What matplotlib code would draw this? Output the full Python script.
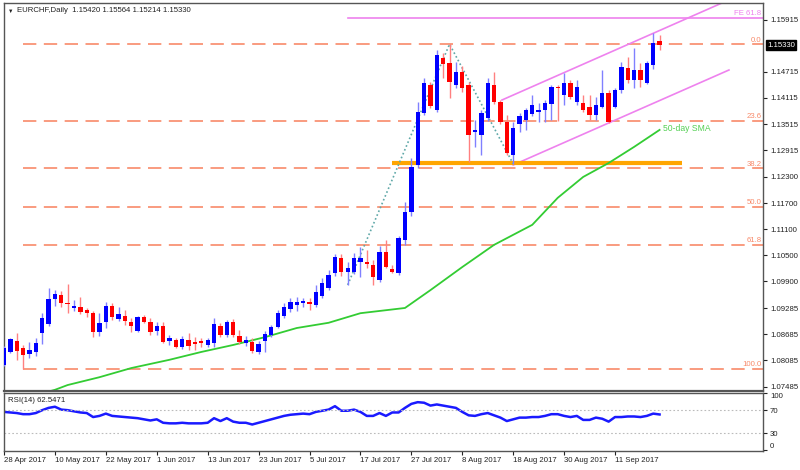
import matplotlib
matplotlib.use("Agg")
import matplotlib.pyplot as plt
import numpy as np

plt.rcParams['font.family'] = ['Liberation Sans', 'DejaVu Sans']

# Tagesdaten EURCHF, 28 Apr 2017 .. 20 Sep 2017 (Index = Bar-Nummer)
opens = [1.0798, 1.0828, 1.0853, 1.0837, 1.0823, 1.0828, 1.0872, 1.0892, 1.0950, 1.0959,
         1.0940, 1.0929, 1.0931, 1.0924, 1.0917, 1.0874, 1.0897, 1.0934, 1.0904, 1.0911,
         1.0897, 1.0876, 1.0908, 1.0897, 1.0876, 1.0888, 1.0853, 1.0855, 1.0839, 1.0855,
         1.0851, 1.0853, 1.0844, 1.0849, 1.0888, 1.0867, 1.0897, 1.0865, 1.0849, 1.0851,
         1.0828, 1.0853, 1.0867, 1.0885, 1.0911, 1.0927, 1.0936, 1.0940, 1.0943, 1.0936,
         1.0957, 1.0975, 1.1009, 1.1044, 1.1012, 1.1012, 1.1035, 1.1035, 1.1028, 1.0993,
         1.1058, 1.1019, 1.1009, 1.1085, 1.1149, 1.1257, 1.1377, 1.1441, 1.1384, 1.1503,
         1.1492, 1.1441, 1.1471, 1.1441, 1.1333, 1.1326, 1.1365, 1.1441, 1.1402, 1.1356,
         1.1280, 1.1352, 1.1361, 1.1375, 1.1379, 1.1384, 1.1398, 1.1437, 1.1418, 1.1446,
         1.1402, 1.1400, 1.1391, 1.1372, 1.1391, 1.1423, 1.1391, 1.1430, 1.1480, 1.1453,
         1.1476, 1.1446, 1.1487, 1.15420]
highs = [1.0842, 1.0860, 1.0872, 1.0844, 1.0851, 1.0860, 1.0917, 1.0975, 1.0970, 1.0968,
         1.0984, 1.0947, 1.0954, 1.0929, 1.0922, 1.0917, 1.0943, 1.0940, 1.0931, 1.0924,
         1.0906, 1.0911, 1.0913, 1.0906, 1.0897, 1.0897, 1.0867, 1.0860, 1.0865, 1.0872,
         1.0862, 1.0860, 1.0860, 1.0906, 1.0895, 1.0901, 1.0904, 1.0878, 1.0865, 1.0860,
         1.0853, 1.0876, 1.0890, 1.0924, 1.0940, 1.0952, 1.0954, 1.0952, 1.0952, 1.0982,
         1.0998, 1.1016, 1.1053, 1.1053, 1.1035, 1.1055, 1.1069, 1.1062, 1.1039, 1.1071,
         1.1085, 1.1028, 1.1094, 1.1172, 1.1274, 1.1402, 1.1457, 1.1448, 1.1522, 1.1515,
         1.1535, 1.1494, 1.1485, 1.1448, 1.1361, 1.1384, 1.1457, 1.1471, 1.1407, 1.1372,
         1.1356, 1.1377, 1.1388, 1.1418, 1.1400, 1.1407, 1.1441, 1.1441, 1.1469, 1.1453,
         1.1453, 1.1418, 1.1418, 1.1414, 1.1476, 1.1430, 1.1434, 1.1494, 1.1505, 1.1526,
         1.1492, 1.1496, 1.1561, 1.15564]
lows = [1.0796, 1.0826, 1.0810, 1.0789, 1.0814, 1.0819, 1.0846, 1.0888, 1.0934, 1.0931,
        1.0917, 1.0922, 1.0915, 1.0908, 1.0862, 1.0865, 1.0883, 1.0901, 1.0899, 1.0890,
        1.0874, 1.0874, 1.0895, 1.0867, 1.0867, 1.0849, 1.0844, 1.0837, 1.0835, 1.0832,
        1.0832, 1.0839, 1.0839, 1.0839, 1.0862, 1.0862, 1.0862, 1.0846, 1.0842, 1.0826,
        1.0823, 1.0828, 1.0862, 1.0883, 1.0906, 1.0920, 1.0922, 1.0931, 1.0924, 1.0931,
        1.0952, 1.0970, 1.1002, 1.1002, 1.0982, 1.1007, 1.1000, 1.1021, 1.0982, 1.0989,
        1.1021, 1.1009, 1.1005, 1.1074, 1.1140, 1.1250, 1.1372, 1.1388, 1.1379, 1.1457,
        1.1411, 1.1434, 1.1425, 1.1264, 1.1299, 1.1280, 1.1359, 1.1398, 1.1352, 1.1280,
        1.1260, 1.1333, 1.1338, 1.1370, 1.1356, 1.1356, 1.1361, 1.1359, 1.1395, 1.1409,
        1.1395, 1.1379, 1.1361, 1.1361, 1.1388, 1.1354, 1.1388, 1.1423, 1.1446, 1.1434,
        1.1437, 1.1444, 1.1478, 1.15214]
closes = [1.0837, 1.0858, 1.0830, 1.0821, 1.0832, 1.0849, 1.0906, 1.0950, 1.0961, 1.0940,
          1.0938, 1.0934, 1.0920, 1.0917, 1.0874, 1.0895, 1.0934, 1.0908, 1.0915, 1.0899,
          1.0888, 1.0908, 1.0897, 1.0874, 1.0888, 1.0851, 1.0860, 1.0839, 1.0858, 1.0842,
          1.0846, 1.0849, 1.0855, 1.0892, 1.0867, 1.0897, 1.0867, 1.0851, 1.0855, 1.0830,
          1.0846, 1.0869, 1.0885, 1.0917, 1.0931, 1.0943, 1.0943, 1.0945, 1.0938, 1.0966,
          1.0986, 1.1005, 1.1046, 1.1012, 1.1021, 1.1044, 1.1044, 1.1030, 1.1000, 1.1058,
          1.1023, 1.1012, 1.1090, 1.1149, 1.1253, 1.1379, 1.1446, 1.1394, 1.1510, 1.1489,
          1.1448, 1.1471, 1.1434, 1.1326, 1.1338, 1.1377, 1.1446, 1.1402, 1.1356, 1.1285,
          1.1342, 1.1370, 1.1384, 1.1395, 1.1384, 1.1400, 1.1437, 1.1434, 1.1446, 1.1414,
          1.1437, 1.1384, 1.1372, 1.1395, 1.1423, 1.1356, 1.1430, 1.1482, 1.1453, 1.1476,
          1.1453, 1.1492, 1.1538, 1.15330]

rsi = [67, 66, 65, 63, 63, 65, 70, 74, 76, 71, 70, 68, 66, 65, 58, 60, 64, 60, 59, 58,
       57, 56, 54, 52, 54, 48, 47, 47, 48, 47, 47, 47, 48, 56, 51, 56, 50, 48, 48, 45,
       48, 51, 54, 57, 60, 62, 63, 64, 63, 67, 69, 71, 77, 69, 69, 71, 67, 60, 60, 65,
       60, 66, 66, 74, 81, 84, 83, 78, 80, 78, 76, 74, 67, 61, 60, 63, 65, 61, 57, 51,
       54, 57, 57, 58, 58, 60, 63, 63, 60, 58, 60, 53, 53, 57, 55, 50, 58, 58, 59, 59,
       58, 60, 64, 62.5]

sma_idx = [6, 8, 10, 15, 20, 26, 31, 36, 41, 46, 51, 56, 63, 67, 72, 77, 83, 87, 91, 95, 99, 103]
sma_val = [1.0733, 1.0741, 1.0752, 1.0770, 1.0791, 1.0810, 1.0828, 1.0844, 1.0862, 1.0883,
           1.0895, 1.0917, 1.0929, 1.0970, 1.1023, 1.1074, 1.1120, 1.1182, 1.1230, 1.1262,
           1.1299, 1.1338]

date_labels = ["28 Apr 2017", "10 May 2017", "22 May 2017", "1 Jun 2017", "13 Jun 2017",
               "23 Jun 2017", "5 Jul 2017", "17 Jul 2017", "27 Jul 2017", "8 Aug 2017",
               "18 Aug 2017", "30 Aug 2017", "11 Sep 2017"]
price_ticks = [1.15915, 1.14715, 1.14115, 1.13515, 1.12915, 1.12300, 1.11700, 1.11100,
               1.10500, 1.09900, 1.09285, 1.08685, 1.08085, 1.07485]

# Fibonacci von Tief (Bar 3) bis Hoch (Bar 70)
fib_low, fib_high = 1.0789, 1.1535
fib_ratios = [0.0, 23.6, 38.2, 50.0, 61.8, 100.0]
fe_level = 1.1596
support = 1.1261
zigzag_x = [54, 70, 80]
zigzag_y = [1.0982, 1.1535, 1.1260]
chan_up_x, chan_up_y = [78.24, 112.8], [1.14067, 1.16295]
chan_lo_x, chan_lo_y = [80.0, 113.9], [1.12574, 1.14756]

o = np.array(opens); h = np.array(highs); l = np.array(lows); c = np.array(closes)
x = np.arange(len(o))
up = c >= o

fig = plt.figure(figsize=(8, 4.7), dpi=100)
ax = fig.add_axes([4/800, 79/470, 759/800, 388/470])
ar = fig.add_axes([4/800, 19/470, 759/800, 58/470])

fs = 5.6
fib_col = "#F88A6A"

# Fibo-Linien
for r in fib_ratios:
    lev = fib_high - r / 100 * (fib_high - fib_low)
    ax.plot([3, 119.25], [lev, lev], color=fib_col, lw=1.2, dashes=(8, 4.5), zorder=1)
    ax.text(119.0, lev + 0.0001, "%.1f" % r, color=fib_col, fontsize=fs, ha="right", va="bottom")

ax.plot([54, 119.25], [fe_level, fe_level], color="#EE82EE", lw=1.2, zorder=1)
ax.text(119.0, fe_level + 0.0001, "FE 61.8", color="#EE82EE", fontsize=fs, ha="right", va="bottom")

ax.plot(chan_up_x, chan_up_y, color="#EE82EE", lw=1.2, zorder=1)
ax.plot(chan_lo_x, chan_lo_y, color="#EE82EE", lw=1.2, zorder=1)
ax.plot([61.0, 106.5], [support, support], color="#FFA500", lw=3, zorder=2, solid_capstyle="butt")
ax.plot(zigzag_x, zigzag_y, color="#5FA8A8", lw=1.2, linestyle=(0, (1, 1.5)), zorder=2)

# SMA
ax.plot(sma_idx, sma_val, color="#33CC33", lw=1.3, zorder=2)
ax.text(103.6, sma_val[-1] + 0.0003, "50-day SMA", color="#55D055", fontsize=6.2, va="center")

# Kerzen
wick_col = np.where(up, "#8080FF", "#FF8080")
body_col = np.where(up, "#0000FF", "#FF0000")
ax.vlines(x, l, h, colors=wick_col, lw=1, zorder=3)
bottom = np.minimum(o, c)
height = np.maximum(np.abs(c - o), 0.00012)
ax.bar(x, height, 0.68, bottom=bottom, color=body_col, zorder=4, linewidth=0)

ax.set_xlim(0, 119.25)
ax.set_ylim(1.07383, 1.16295)
ax.yaxis.tick_right()
ax.set_yticks(price_ticks)
ax.set_yticklabels(["%.5f" % v for v in price_ticks])
ax.tick_params(axis="y", labelsize=fs, length=3, width=0.8, pad=2, colors="#222222")
ax.set_xticks([])
ax.annotate("1.15330", xy=(1.0, closes[-1]), xycoords=("axes fraction", "data"),
            xytext=(3, 0), textcoords="offset points", fontsize=fs, color="white",
            va="center", ha="left",
            bbox=dict(boxstyle="square,pad=0.15", fc="black", ec="black"))
for s in ax.spines.values():
    s.set_color("#555555")
    s.set_linewidth(1)
ax.spines["bottom"].set_linewidth(1.6)

fig.text(8/800, 1 - 11/470, "\u25bc", fontsize=4, va="center", color="#222222")
fig.text(17/800, 1 - 11/470, "EURCHF,Daily  1.15420 1.15564 1.15214 1.15330",
         fontsize=fs, va="center", color="#222222")

# RSI
ar.plot(x, rsi, color="#1A1AFF", lw=1.8)
for lv in (70, 30):
    ar.axhline(lv, color="#BBBBBB", lw=0.8, linestyle=(0, (1.5, 2)))
ar.set_xlim(0, 119.25)
ar.set_ylim(-1.3, 99.6)
ar.yaxis.tick_right()
ar.set_yticks([100, 70, 30, 0])
ar.set_yticklabels(["100", "70", "30", "0"])
ar.tick_params(axis="y", labelsize=fs, length=3, width=0.8, pad=2, colors="#222222")
yl = ar.get_yticklabels()
yl[0].set_va("top")
yl[3].set_va("bottom")
ar.set_xticks(np.arange(0, 97, 8))
ar.set_xticklabels(date_labels, ha="left")
ar.tick_params(axis="x", labelsize=fs, length=3, width=0.8, pad=1, colors="#222222")
ar.text(0.005, 0.93, "RSI(14) 62.5471", transform=ar.transAxes, fontsize=fs,
        va="top", color="#222222")
for s in ar.spines.values():
    s.set_color("#555555")
    s.set_linewidth(1)

fig.savefig("out.png", dpi=100)
